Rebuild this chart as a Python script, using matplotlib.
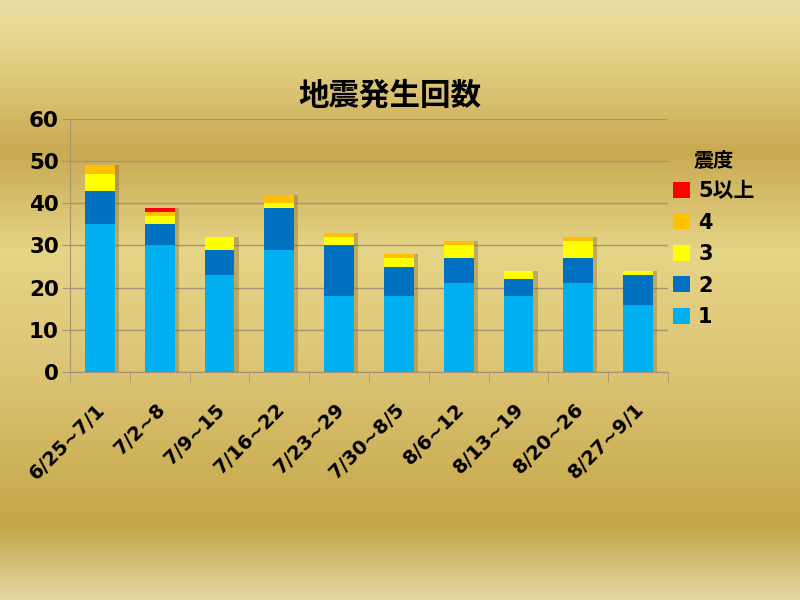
import numpy as np
import matplotlib.pyplot as plt
import matplotlib.patheffects as pe
import matplotlib.transforms as mtransforms
from matplotlib.colors import LinearSegmentedColormap
from matplotlib.patches import Patch

plt.rcParams['font.family'] = ['DejaVu Sans', 'Noto Sans CJK JP']
plt.rcParams['font.weight'] = 'bold'

# Data
weeks = ['6/25∼7/1', '7/2∼8', '7/9∼15', '7/16∼22', '7/23∼29',
         '7/30∼8/5', '8/6∼12', '8/13∼19', '8/20∼26', '8/27∼9/1']
level_names = ['1', '2', '3', '4', '5以上']
int1 = [35, 30, 23, 29, 18, 18, 21, 18, 21, 16]
int2 = [8, 5, 6, 10, 12, 7, 6, 4, 6, 7]
int3 = [4, 2, 3, 1, 2, 2, 3, 2, 4, 1]
int4 = [2, 1, 0, 2, 1, 1, 1, 0, 1, 0]
int5 = [0, 1, 0, 0, 0, 0, 0, 0, 0, 0]
colors = ['#00B0F0', '#0070C0', '#FFFF00', '#FFC000', '#FF0000']

fig = plt.figure(figsize=(8, 6), dpi=100)

# gold gradient background
bg = fig.add_axes([0, 0, 1, 1], zorder=-10)
gold = LinearSegmentedColormap.from_list('gold', [
    (0.00, '#EADDA4'), (0.08, '#E6D48A'), (0.25, '#C9AA52'),
    (0.42, '#E6D487'), (0.62, '#DCC475'), (0.88, '#C5A748'), (1.00, '#E4D5A2')])
bg.imshow(np.linspace(0, 1, 300).reshape(-1, 1), cmap=gold, aspect='auto',
          extent=[0, 1, 0, 1], origin='upper')
bg.axis('off')

ax = fig.add_axes([0.0875, 0.38, 0.7475, 0.4217])
ax.patch.set_alpha(0)

x = np.arange(len(weeks))
shadow = [pe.SimplePatchShadow(offset=(3, 0), shadow_rgbFace='#7A6020', alpha=0.35), pe.Normal()]
bottom = np.zeros(len(weeks))
handles = []
for vals, c, name in zip([int1, int2, int3, int4, int5], colors, level_names):
    bars = ax.bar(x, vals, 0.5, bottom=bottom, color=c, zorder=3)
    for b in bars:
        b.set_path_effects(shadow)
    bottom += np.array(vals)
    handles.append(Patch(facecolor=c, label=name))

ax.set_ylim(0, 60)
ax.set_xlim(-0.5, len(weeks) - 0.5)
ax.set_yticks(range(0, 61, 10))
ax.yaxis.grid(True, color='#A39473', linewidth=1)
ax.set_axisbelow(True)
for s in ['top', 'right']:
    ax.spines[s].set_visible(False)
for s in ['left', 'bottom']:
    ax.spines[s].set_color('#A39473')
ax.tick_params(axis='y', length=6, color='#A39473', labelsize=15.5, pad=2)
ax.set_xticks(x)
ax.set_xticklabels(weeks, rotation=45, ha='right', rotation_mode='anchor', fontsize=14)
ax.set_xticks(np.arange(-0.5, len(weeks), 1), minor=True)
ax.tick_params(axis='x', which='major', length=0, pad=20)
ax.tick_params(axis='x', which='minor', length=7, color='#A39473')
# nudge the slanted labels a little to the left, like the original
shift = mtransforms.ScaledTranslation(-4 / 100, 0, fig.dpi_scale_trans)
for lbl in ax.get_xticklabels():
    lbl.set_transform(lbl.get_transform() + shift)

fig.text(0.4875, 0.84, '地震発生回数', ha='center', va='center',
         fontsize=22, fontweight='bold', family=['Noto Sans CJK JP'])

leg = fig.legend(handles[::-1], level_names[::-1], title='震度', loc='upper left',
                 bbox_to_anchor=(0.818, 0.78), frameon=False, fontsize=15,
                 handlelength=0.8, handleheight=0.8, handletextpad=0.4,
                 labelspacing=0.55, title_fontsize=14.5)
leg.get_title().set_fontweight('bold')

fig.savefig('out.png', dpi=100)
